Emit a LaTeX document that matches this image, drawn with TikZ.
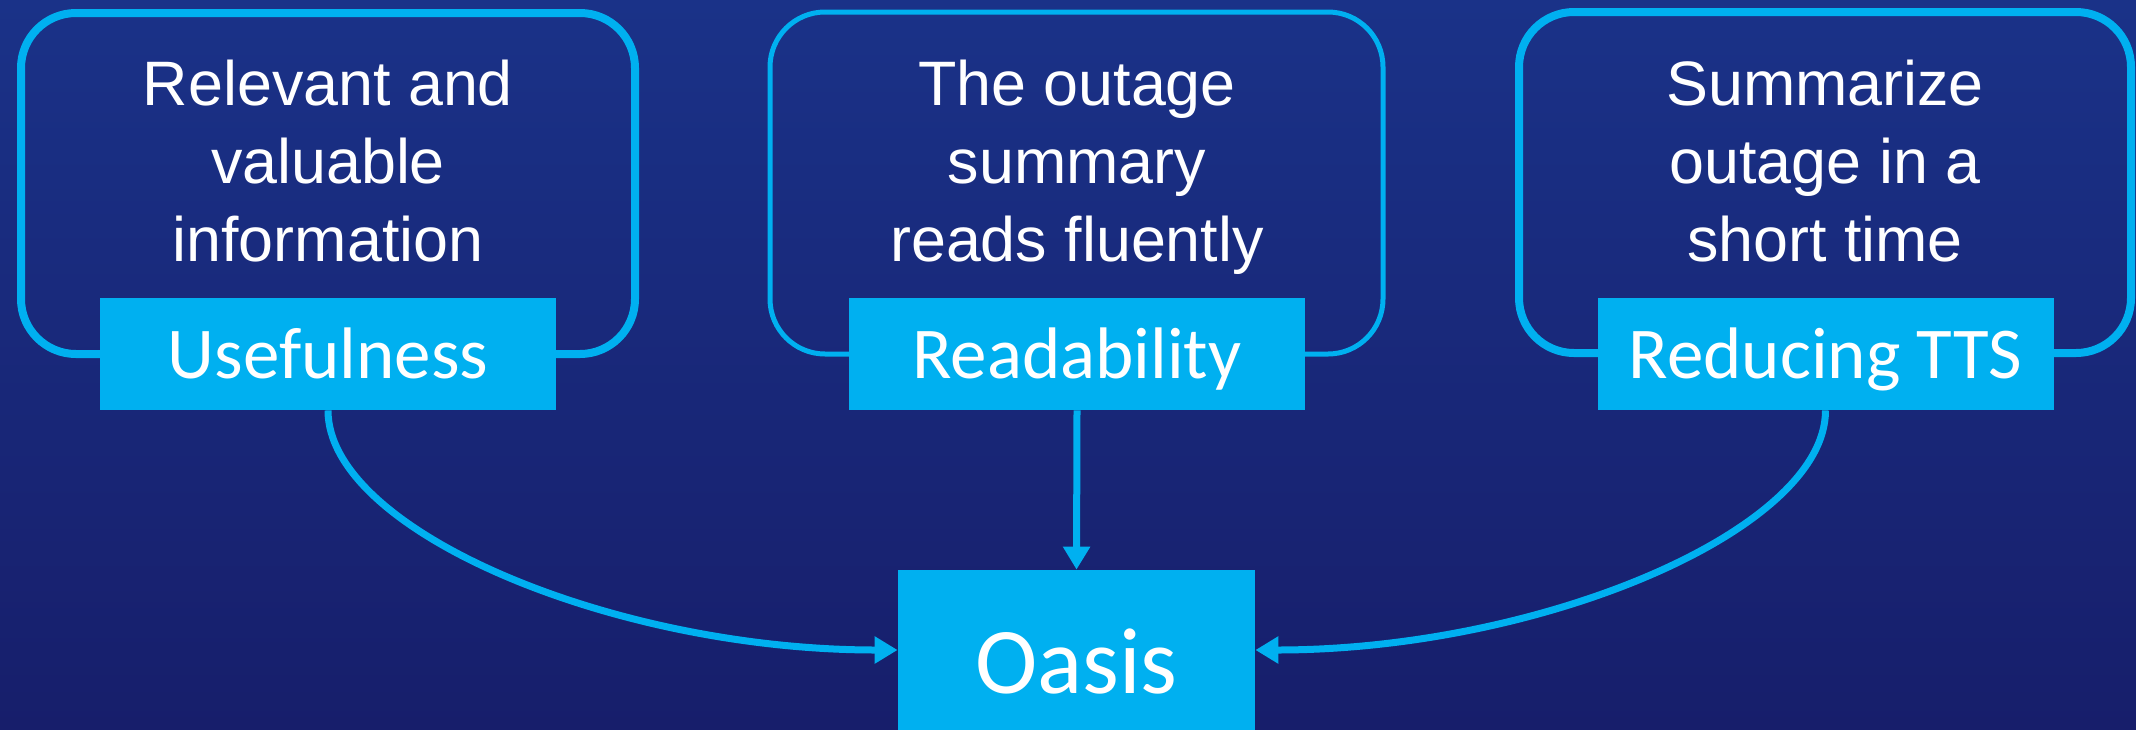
\documentclass[tikz,border=0pt]{standalone}
\usepackage{fontspec}
\newfontfamily\descfont{Liberation Sans}
\newfontfamily\labfont{Carlito}
\usetikzlibrary{arrows.meta,calc}
\definecolor{cyanbox}{HTML}{00B0F0}
\definecolor{bgtop}{HTML}{1A3288}
\definecolor{bgbot}{HTML}{171E6B}
\begin{document}
\begin{tikzpicture}[x=0.5pt,y=-0.5pt,
  outline/.style={draw=cyanbox, rounded corners=27.5pt},
  labelbox/.style={fill=cyanbox, text=white, minimum width=228pt, minimum height=56pt,
    inner sep=0pt, font=\labfont\fontsize{36.5}{40}\selectfont, text height=24pt, text depth=0pt},
  desc/.style={text=white, align=center, inner sep=0pt, anchor=north,
    font=\descfont\fontsize{31.4}{39}\selectfont},
  oasisbox/.style={fill=cyanbox, text=white, minimum width=178.5pt, minimum height=80pt,
    inner sep=0pt, font=\labfont\fontsize{47}{50}\selectfont, text height=43pt, text depth=0pt},
  conn/.style={draw=cyanbox, line width=3.5pt, -{Triangle[length=11.5pt,width=13pt]}}]
\shade[top color=bgtop, bottom color=bgbot] (0,0) rectangle (2136,729);
\useasboundingbox (0,0) rectangle (2136,729);

% outline frames
\draw[outline, line width=4pt] (21,13) rectangle (635,354);
\draw[outline, line width=2.5pt] (770,12) rectangle (1383,354);
\draw[outline, line width=4pt] (1519,12) rectangle (2131,353);

% descriptions
\node[desc] (d1) at (328,60) {Relevant and\\valuable\\information};
\node[desc] (d2) at (1077,60) {The outage\\summary\\reads fluently};
\node[desc] (d3) at (1825,60) {Summarize\\outage in a\\short time};

% labels
\node[labelbox] (use) at (328,354) {Usefulness};
\node[labelbox] (read) at (1077,354) {Readability};
\node[labelbox] (tts) at (1825.5,354) {Reducing TTS};

% target
\node[oasisbox] (oasis) at (1076.5,650) {Oasis};

% connectors
\draw[conn] (read.south) -- (oasis.north);
\draw[conn] (use.south) .. controls +(0,120) and +(-285,0) .. (oasis.west);
\draw[conn] (tts.south) .. controls +(0,120) and +(285,0) .. (oasis.east);
\end{tikzpicture}
\end{document}
